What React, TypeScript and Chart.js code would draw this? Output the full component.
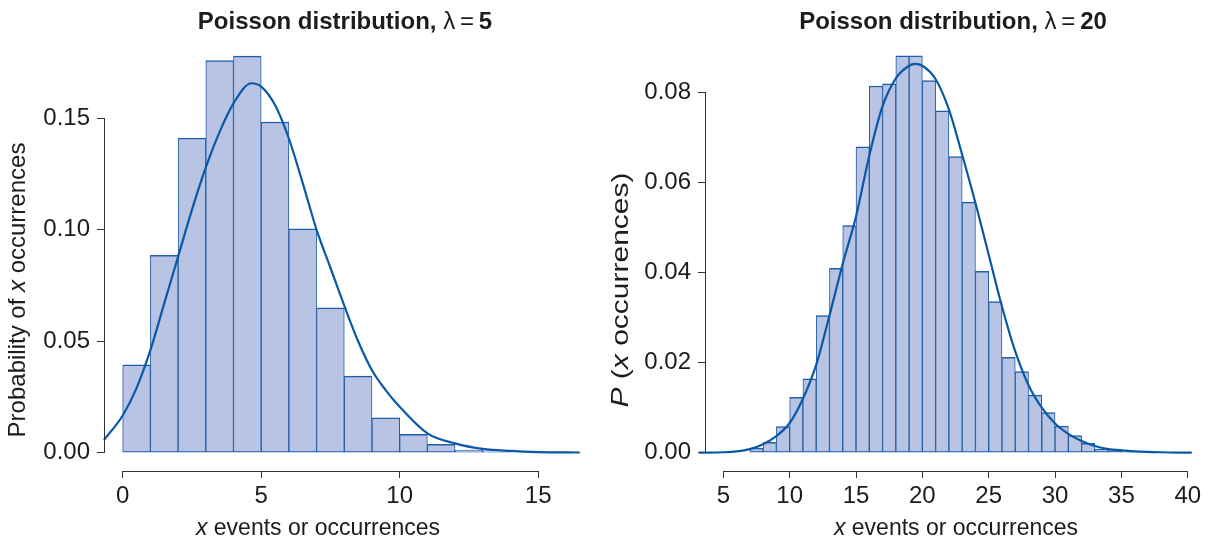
import React, { useEffect, useRef } from 'react';
import { Chart, registerables } from 'chart.js';

Chart.register(...registerables);

// ---------- data: left panel (lambda = 5) ----------
const leftBinStarts = [0, 1, 2, 3, 4, 5, 6, 7, 8, 9, 10, 11, 12, 13];
const leftBarProbs = [0.0394, 0.0886, 0.1412, 0.176, 0.178, 0.1484, 0.1005, 0.065, 0.0344, 0.0157, 0.0082, 0.0038, 0.0012, 0.0008];
const leftCurveX = [-0.675, 0, 0.5, 1, 1.5, 2, 2.5, 3, 3.5, 4, 4.65, 5, 5.5, 6, 6.5, 7, 7.5, 8, 8.5, 9, 9.5, 10, 11, 12, 13, 14, 15, 16.5];
const leftCurveY = [0.0057, 0.0167, 0.029, 0.046, 0.067, 0.088, 0.109, 0.128, 0.144, 0.1568, 0.1658, 0.1643, 0.156, 0.141, 0.121, 0.1, 0.083, 0.066, 0.05, 0.037, 0.028, 0.0206, 0.0087, 0.0042, 0.0017, 0.0008, 0.0003, 0.0001];
const leftXTicks = [0, 5, 10, 15];
const leftYTicks = [0, 0.05, 0.1, 0.15];

// ---------- data: right panel (lambda = 20) ----------
const rightBinStarts = [7, 8, 9, 10, 11, 12, 13, 14, 15, 16, 17, 18, 19, 20, 21, 22, 23, 24, 25, 26, 27, 28, 29, 30, 31, 32, 33, 34, 35];
const rightBarProbs = [0.001, 0.0023, 0.0058, 0.0123, 0.0164, 0.0305, 0.041, 0.0505, 0.068, 0.0815, 0.082, 0.0882, 0.0882, 0.0827, 0.076, 0.0658, 0.0557, 0.0403, 0.0336, 0.0212, 0.018, 0.0128, 0.0089, 0.0059, 0.0038, 0.0021, 0.0008, 0.0008, 0.0004];
const rightCurveX = [3.17, 5, 6, 7, 8, 9, 10, 11, 12, 13, 14, 15, 16, 17, 18, 19, 19.45, 20, 21, 22, 23, 24, 25, 26, 27, 28, 29, 30, 31, 32, 33, 34, 35, 36, 38, 40.3];
const rightCurveY = [0, 0.0001, 0.0003, 0.0008, 0.0019, 0.0037, 0.0066, 0.012, 0.0195, 0.0305, 0.042, 0.0525, 0.066, 0.077, 0.0832, 0.086, 0.0864, 0.086, 0.083, 0.0763, 0.0662, 0.0555, 0.044, 0.0325, 0.0225, 0.015, 0.01, 0.0065, 0.0042, 0.0026, 0.0015, 0.0008, 0.0005, 0.0003, 0.0001, 0];
const rightXTicks = [5, 10, 15, 20, 25, 30, 35, 40];
const rightYTicks = [0, 0.02, 0.04, 0.06, 0.08];

// ---------- styles ----------
const FONT = "'Liberation Sans', Arial, Helvetica, sans-serif";
const TEXT = '#1e1b1c';
const AXIS = '#333333';
const BAR_FILL = '#b9c4e4';
const BAR_EDGE = '#1f5ea8';
const CURVE = '#0b58a6';

type Seg = { t: string; f: string };

function drawSegs(ctx: CanvasRenderingContext2D, segs: Seg[], cx: number, cy: number) {
  let total = 0;
  const widths = segs.map((s) => {
    ctx.font = s.f;
    const w = ctx.measureText(s.t).width;
    total += w;
    return w;
  });
  let x = cx - total / 2;
  segs.forEach((s, i) => {
    ctx.font = s.f;
    ctx.fillText(s.t, x, cy);
    x += widths[i];
  });
}

type PanelOpts = {
  bins: number[];
  probs: number[];
  curveX: number[];
  curveY: number[];
  xTicks: number[];
  yTicks: number[];
  xMin: number;
  xMax: number;
  yMin: number;
  yMax: number;
  yDecimals: number;
  yAxisWidth: number;
  padRight: number;
  title: Seg[];
  titleCx: number;
  xTitle: Seg[];
  xTitleCx: number;
  yTitle: Seg[];
  yTitleX: number;
  yTitleCy: number;
  yTitleStretch: number;
};

function decorPlugin(p: PanelOpts) {
  return {
    id: 'decor',
    afterDraw(chart: any) {
      const { ctx, chartArea } = chart;
      const xs = chart.scales.x;
      const ys = chart.scales.y;
      const align = (v: number) => Math.round(v - 0.5) + 0.5;
      ctx.save();
      ctx.strokeStyle = AXIS;
      ctx.lineWidth = 1;
      // partial x axis line (R style)
      const yb = align(chartArea.bottom);
      ctx.beginPath();
      ctx.moveTo(align(xs.getPixelForValue(p.xTicks[0])) - 0.5, yb);
      ctx.lineTo(align(xs.getPixelForValue(p.xTicks[p.xTicks.length - 1])) + 0.5, yb);
      ctx.stroke();
      // partial y axis line
      const xl = align(chartArea.left);
      ctx.beginPath();
      ctx.moveTo(xl, align(ys.getPixelForValue(p.yTicks[0])) + 0.5);
      ctx.lineTo(xl, align(ys.getPixelForValue(p.yTicks[p.yTicks.length - 1])) - 0.5);
      ctx.stroke();

      ctx.fillStyle = TEXT;
      ctx.textBaseline = 'alphabetic';
      ctx.textAlign = 'left';
      drawSegs(ctx, p.title, p.titleCx, 29);
      drawSegs(ctx, p.xTitle, p.xTitleCx, 535);
      ctx.translate(p.yTitleX, p.yTitleCy);
      ctx.rotate(-Math.PI / 2);
      ctx.scale(p.yTitleStretch, 1);
      drawSegs(ctx, p.yTitle, 0, 0);
      ctx.restore();
    },
  };
}

function makeConfig(p: PanelOpts): any {
  return {
    type: 'bar',
    data: {
      datasets: [
        {
          type: 'line',
          data: p.curveX.map((x, i) => ({ x, y: p.curveY[i] })),
          borderColor: CURVE,
          borderWidth: 2.2,
          pointRadius: 0,
          cubicInterpolationMode: 'monotone',
          fill: false,
          clip: false,
        },
        {
          type: 'bar',
          data: p.bins.map((b, i) => ({ x: b + 0.5, y: p.probs[i] })),
          backgroundColor: BAR_FILL,
          borderColor: BAR_EDGE,
          borderWidth: { top: 1.5, left: 1, right: 1, bottom: 1.3 },
          borderSkipped: false,
          barPercentage: 1,
          categoryPercentage: 1,
          grouped: false,
        },
      ],
    },
    options: {
      animation: false,
      responsive: false,
      events: [],
      layout: { padding: { left: 0, right: p.padRight, top: 38, bottom: 0 } },
      plugins: {
        legend: { display: false },
        tooltip: { enabled: false },
        title: { display: false },
      },
      scales: {
        x: {
          type: 'linear',
          min: p.xMin,
          max: p.xMax,
          bounds: 'data',
          offset: false,
          grid: { display: true, offset: false, drawOnChartArea: false, drawTicks: true, tickLength: 7, color: AXIS, lineWidth: 1 },
          border: { display: false },
          ticks: {
            font: { family: FONT, size: 24 },
            color: TEXT,
            padding: 4,
            maxRotation: 0,
            autoSkip: false,
            callback: (v: number) => String(v),
          },
          afterBuildTicks: (s: any) => {
            s.ticks = p.xTicks.map((v) => ({ value: v }));
          },
          afterFit: (s: any) => {
            s.height = 70;
          },
        },
        y: {
          type: 'linear',
          min: p.yMin,
          max: p.yMax,
          bounds: 'data',
          grid: { display: true, offset: false, drawOnChartArea: false, drawTicks: true, tickLength: 7, color: AXIS, lineWidth: 1 },
          border: { display: false },
          ticks: {
            font: { family: FONT, size: 24 },
            color: TEXT,
            padding: 7,
            autoSkip: false,
            callback: (v: number) => Number(v).toFixed(p.yDecimals),
          },
          afterBuildTicks: (s: any) => {
            s.ticks = p.yTicks.map((v) => ({ value: v }));
          },
          afterFit: (s: any) => {
            s.width = p.yAxisWidth;
          },
        },
      },
    },
    plugins: [decorPlugin(p)],
  };
}

const n = (sz: number) => `${sz}px ${FONT}`;
const b = (sz: number) => `bold ${sz}px ${FONT}`;
const it = (sz: number) => `italic ${sz}px ${FONT}`;

const leftPanel: PanelOpts = {
  bins: leftBinStarts,
  probs: leftBarProbs,
  curveX: leftCurveX,
  curveY: leftCurveY,
  xTicks: leftXTicks,
  yTicks: leftYTicks,
  xMin: -0.675,
  xMax: 16.51,
  yMin: -0.00821,
  yMax: 0.1861,
  yDecimals: 2,
  yAxisWidth: 104,
  padRight: 29,
  title: [
    { t: 'Poisson distribution, ', f: b(24) },
    { t: 'λ', f: n(24) },
    { t: '\u2009=\u2009', f: n(24) },
    { t: '5', f: b(24) },
  ],
  titleCx: 345,
  xTitle: [
    { t: 'x', f: it(23) },
    { t: ' events or occurrences', f: n(23) },
  ],
  xTitleCx: 318,
  yTitle: [
    { t: 'Probability of ', f: n(24) },
    { t: 'x', f: it(24) },
    { t: ' occurrences', f: n(24) },
  ],
  yTitleX: 25,
  yTitleCy: 290,
  yTitleStretch: 1,
};

const rightPanel: PanelOpts = {
  bins: rightBinStarts,
  probs: rightBarProbs,
  curveX: rightCurveX,
  curveY: rightCurveY,
  xTicks: rightXTicks,
  yTicks: rightYTicks,
  xMin: 3.62,
  xMax: 40.32,
  yMin: -0.004067,
  yMax: 0.09216,
  yDecimals: 2,
  yAxisWidth: 96,
  padRight: 26,
  title: [
    { t: 'Poisson distribution, ', f: b(24) },
    { t: 'λ', f: n(24) },
    { t: '\u2009=\u2009', f: n(24) },
    { t: '20', f: b(24) },
  ],
  titleCx: 344,
  xTitle: [
    { t: 'x', f: it(23) },
    { t: ' events or occurrences', f: n(23) },
  ],
  xTitleCx: 347,
  yTitle: [
    { t: 'P', f: it(24) },
    { t: ' (', f: n(24) },
    { t: 'x', f: it(24) },
    { t: ' occurrences)', f: n(24) },
  ],
  yTitleX: 19,
  yTitleCy: 290,
  yTitleStretch: 1.25,
};

function Panel({ cfg, left }: { cfg: PanelOpts; left: number }) {
  const ref = useRef<HTMLCanvasElement | null>(null);
  useEffect(() => {
    if (!ref.current) return;
    const chart = new Chart(ref.current, makeConfig(cfg));
    return () => chart.destroy();
  }, [cfg]);
  return (
    <canvas
      ref={ref}
      width={609}
      height={541}
      style={{ position: 'absolute', left, top: 0, width: 609, height: 541, display: 'block' }}
    />
  );
}

export default function App() {
  return (
    <div style={{ position: 'fixed', left: 0, top: 0, width: 1218, height: 541, background: '#ffffff', overflow: 'hidden' }}>
      <Panel cfg={leftPanel} left={0} />
      <Panel cfg={rightPanel} left={609} />
    </div>
  );
}
